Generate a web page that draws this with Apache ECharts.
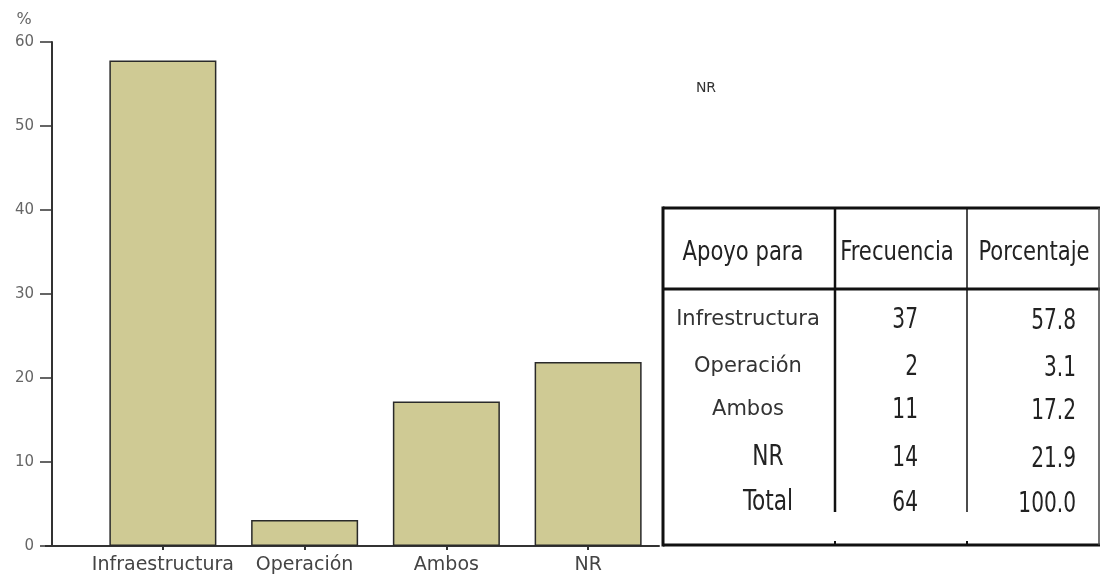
<!DOCTYPE html>
<html>
<head>
<meta charset="utf-8">
<script src="https://cdn.jsdelivr.net/npm/echarts@6/dist/echarts.min.js"></script>
<style>
html,body{margin:0;padding:0;background:#fff;}
#c{width:1102px;height:578px;}
</style>
</head>
<body>
<div id="c"></div>
<script>
// ---- data ----
var categories = ['Infraestructura', 'Operación', 'Ambos', 'NR'];
var percentValues = [57.8, 3.1, 17.2, 21.9];
var yTicks = [0, 10, 20, 30, 40, 50, 60];

var tableHeaders = ['Apoyo para', 'Frecuencia', 'Porcentaje'];
var tableLabels = ['Infrestructura', 'Operación', 'Ambos', 'NR', 'Total'];
var tableFreq = ['37', '2', '11', '14', '64'];
var tablePct = ['57.8', '3.1', '17.2', '21.9', '100.0'];
var strayLabel = 'NR';

// ---- layout ----
var chart = echarts.init(document.getElementById('c'), null, {renderer: 'canvas'});
var narrow = '"Liberation Sans Narrow", "DejaVu Sans Condensed", "Liberation Sans", sans-serif';
var wide = '"DejaVu Sans", Verdana, sans-serif';

var tX0 = 663, tX1 = 1099, tY0 = 208, tYh = 289, tY1 = 545;
var c1 = 835, c2 = 967;
var rowY = [320, 367, 410, 458, 503];

var g = [];
// x axis extension to the left of the y axis
g.push({type: 'line', shape: {x1: 45, y1: 546, x2: 93, y2: 546}, style: {stroke: '#333', lineWidth: 2}});
// "%" unit label
g.push({type: 'text', x: 24, y: 20, style: {text: '%', font: '16px ' + wide, fill: '#666', align: 'center', verticalAlign: 'middle'}});
// stray label
g.push({type: 'text', x: 706, y: 88, style: {text: strayLabel, font: '14px ' + wide, fill: '#333', align: 'center', verticalAlign: 'middle'}});

// table lines
function ln(x1, y1, x2, y2, w, col) {
  g.push({type: 'line', shape: {x1: x1, y1: y1, x2: x2, y2: y2}, style: {stroke: col || '#111', lineWidth: w}});
}
ln(tX0, tY0, tX1 + 1, tY0, 3);
ln(tX0, tYh, tX1 + 1, tYh, 3);
ln(tX0, tY1, tX1 + 1, tY1, 3);
ln(tX0, tY0 - 1.5, tX0, tY1 + 1.5, 3);
ln(tX1, tY0, tX1, tY1, 1.5, '#444');
ln(c1, tY0, c1, 512, 2.5);
ln(c2, tY0, c2, 512, 1.5);
ln(c1, tY1 - 4, c1, tY1, 2);
ln(c2, tY1 - 4, c2, tY1, 2);

function narrowText(x, y, txt, size, sx, align) {
  g.push({type: 'text', x: x, y: y, scaleX: sx, style: {text: txt, font: size + 'px ' + narrow, fill: '#222', align: align, verticalAlign: 'middle'}});
}

// headers
var headX = [743, 897, 1034];
tableHeaders.forEach(function (h, i) {
  narrowText(headX[i], 253, h, 27, 0.87, 'center');
});
// body rows
tableLabels.forEach(function (lab, i) {
  if (i >= 3) {
    narrowText(768, rowY[i], lab, 28, 0.86, 'center');
  } else {
    g.push({type: 'text', x: 748, y: rowY[i], style: {
      text: lab, font: '21px ' + wide, fill: '#333', align: 'center', verticalAlign: 'middle'}});
  }
  narrowText(918, rowY[i] + 1, tableFreq[i], 28, 0.8, 'right');
  narrowText(1076, rowY[i] + 2, tablePct[i], 28, 0.8, 'right');
});

var option = {
  backgroundColor: '#fff',
  animation: false,
  grid: {left: 92, right: 443, top: 42, bottom: 32, containLabel: false},
  xAxis: {
    type: 'category',
    data: categories,
    axisLine: {show: true, lineStyle: {color: '#333', width: 2}},
    axisTick: {show: true, alignWithLabel: true, length: 4, lineStyle: {color: '#333', width: 2}},
    axisLabel: {interval: 0, margin: 10, color: '#444', fontSize: 19, fontFamily: wide}
  },
  yAxis: {
    type: 'value',
    min: yTicks[0],
    max: yTicks[yTicks.length - 1],
    interval: 10,
    offset: 40,
    splitLine: {show: false},
    axisLine: {show: true, lineStyle: {color: '#333', width: 2}},
    axisTick: {show: true, length: 12, lineStyle: {color: '#333', width: 1.5}},
    axisLabel: {margin: 18, color: '#666', fontSize: 15, fontFamily: wide}
  },
  series: [{
    type: 'bar',
    data: percentValues,
    barCategoryGap: '24.5%',
    itemStyle: {color: '#cfca94', borderColor: '#2a2a2a', borderWidth: 1.5}
  }],
  graphic: g
};
chart.setOption(option);
</script>
</body>
</html>
